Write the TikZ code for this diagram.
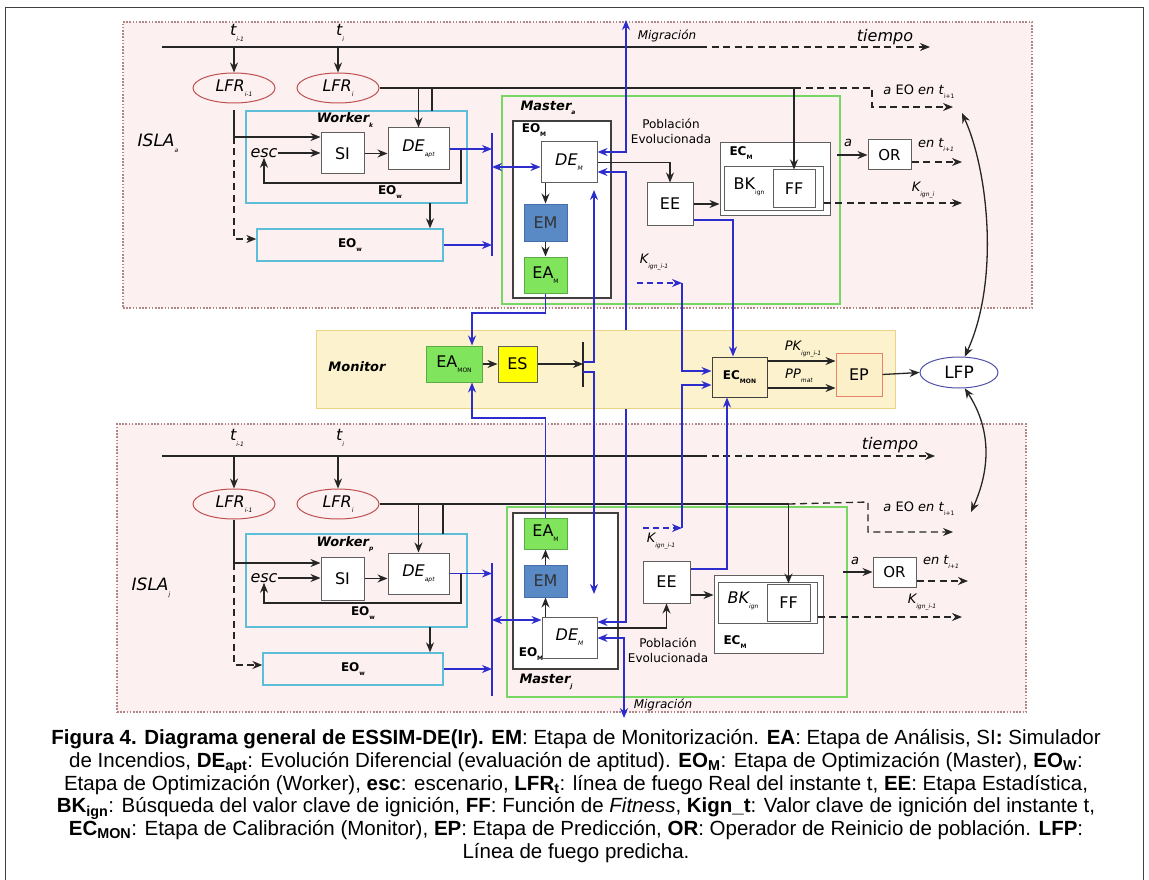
\documentclass[tikz,border=0pt]{standalone}
\usepackage{fontspec}
\setmainfont{DejaVu Sans}
\newfontfamily\capfont{Liberation Sans}
\usetikzlibrary{arrows.meta,shapes.geometric}

\definecolor{islafill}{RGB}{253,240,240}
\definecolor{isladraw}{RGB}{175,135,135}
\definecolor{monfill}{RGB}{253,242,206}
\definecolor{mondraw}{RGB}{232,212,130}
\definecolor{wkdraw}{RGB}{95,190,215}
\definecolor{msdraw}{RGB}{120,215,100}
\definecolor{emfill}{RGB}{90,138,198}
\definecolor{emdraw}{RGB}{70,110,170}
\definecolor{eafill}{RGB}{128,228,92}
\definecolor{eadraw}{RGB}{90,170,70}
\definecolor{esfill}{RGB}{255,255,0}
\definecolor{ecfill}{RGB}{251,240,200}
\definecolor{epdraw}{RGB}{232,130,105}
\definecolor{lfrdraw}{RGB}{190,80,80}
\definecolor{lfpdraw}{RGB}{80,80,170}
\definecolor{bline}{RGB}{45,45,205}
\definecolor{boxdraw}{RGB}{95,95,95}

\newcommand\fsz[1]{\fontsize{#1}{#1}\selectfont}
\newcommand\lo[1]{\raisebox{-0.6ex}{\fontsize{6}{6}\selectfont #1}}

\tikzset{
  sz/.style 2 args={minimum width=#1pt, minimum height=#2pt},
  island/.style={draw=isladraw, fill=islafill, line width=1.3pt, dash pattern=on 1.6pt off 1.6pt, inner sep=0pt},
  blk/.style={draw=boxdraw, fill=white, line width=1pt, inner sep=0pt, font=\fsz{16}},
  wk/.style={draw=wkdraw, line width=1.3pt, inner sep=0pt},
  ms/.style={draw=msdraw, line width=1.3pt, inner sep=0pt},
  eom/.style={draw=black!75, fill=white, line width=1.1pt, inner sep=0pt},
  emb/.style={blk, draw=emdraw, fill=emfill, text=black!80},
  eab/.style={blk, draw=eadraw, fill=eafill},
  esb/.style={blk, fill=esfill},
  ecb/.style={blk, fill=ecfill, draw=black!75},
  epb/.style={blk, fill=ecfill, draw=epdraw},
  monb/.style={draw=mondraw, fill=monfill, line width=1pt, inner sep=0pt},
  ell/.style={ellipse, draw=lfrdraw, fill=islafill, line width=1pt, inner sep=0pt, font=\fsz{16}\itshape},
  txt/.style={inner sep=0pt, font=\fsz{16}},
  txti/.style={inner sep=0pt, font=\fsz{16}\itshape},
  txts/.style={inner sep=0pt, font=\fsz{13}\itshape},
  txtb/.style={inner sep=0pt, font=\fsz{12}\bfseries},
  txtbi/.style={inner sep=0pt, font=\fsz{13}\bfseries\itshape},
  ln/.style={draw=black!85, line width=1.3pt},
  ar/.style={ln, -{Stealth[length=10pt,width=8pt]}},
  dar/.style={ar, dash pattern=on 7pt off 4.5pt},
  bl/.style={draw=bline, line width=1.4pt},
  blar/.style={bl, -{Stealth[length=10pt,width=8pt]}},
  blar2/.style={bl, {Stealth[length=10pt,width=8pt]}-{Stealth[length=10pt,width=8pt]}},
  dblar/.style={blar, dash pattern=on 6pt off 4pt},
  ar2/.style={ln, {Stealth[length=10pt,width=8pt]}-{Stealth[length=10pt,width=8pt]}},
}

\begin{document}
\begin{tikzpicture}[x=1pt,y=-1pt]
\useasboundingbox (0,0) rectangle (1149,880);
\fill[white] (0,0) rectangle (1149,880);
\draw[black!75, line width=0.9pt] (5,7) rectangle (1143,895);

% ================= islands =================
\node[island, sz={909}{286}] (islaA) at (577.5,165) {};
\node[island, sz={909}{288}] (islaJ) at (571.5,568) {};

% ================= island a =================
\node[inner sep=0pt, font=\fsz{17}\itshape] (islaAlab) at (158,143) {ISLA\lo{a}};
\coordinate (tA0) at (162,47); \coordinate (tA1) at (700,47); \coordinate (tA2) at (930,47);
\draw[ln] (tA0) -- (tA1);
\draw[dar] (tA1) -- (tA2);
\node[txti] (tiempoA) at (885,37) {tiempo};

\node[ell, sz={82}{30}] (lfrA1) at (234,88) {LFR\lo{i-1}};
\node[ell, sz={82}{30}] (lfrA2) at (338,88) {LFR\lo{i}};
\node[txti] (tA1lab) at (237,33) {t\lo{i-1}};
\node[txti] (tA2lab) at (340,33) {t\lo{i}};
\draw[ar] (lfrA1.north |- tA0) -- (lfrA1.north);
\draw[ar] (lfrA2.north |- tA0) -- (lfrA2.north);

\node[wk, sz={221}{92}] (workA) at (356.5,157) {};
\node[txtbi] (workAlab) at (345,120) {Worker\lo{k}};
\node[blk, sz={43}{41}] (siA) at (342.5,153.5) {SI};
\node[blk, sz={61}{42}, font=\fsz{16}\itshape] (deA) at (418.5,149) {DE\lo{apt}};
\node[txti] (escA) at (264,153) {esc};
\node[txtb] (eowAlab) at (390,192) {EO\lo{w}};
\node[wk, sz={186}{32}, font=\fsz{12}\bfseries] (eowA) at (350,245) {EO\lo{w}};

\node[ms, sz={338}{208}] (masterA) at (671,200) {};
\node[txtbi] (masterAlab) at (548,108) {Master\lo{a}};
\node[eom, sz={98}{177}] (eomA) at (562,209.5) {};
\node[txtb] (eomAlab) at (534,130) {EO\lo{M}};
\node[blk, sz={56}{41}, font=\fsz{16}\itshape] (demA) at (569,162.5) {DE\lo{M}};
\node[emb, sz={43}{37}] (emA) at (545.5,222.5) {EM};
\node[eab, sz={43}{36}] (eamA) at (545.5,275) {EA\lo{M}};
\node[blk, sz={46}{42}] (eeA) at (670,204) {EE};
\node[inner sep=0pt, align=center, font=\fontsize{12}{15}\selectfont] (pobA) at (671,131) {Población\\Evolucionada};

\node[blk, sz={110}{72}] (ecmA) at (775,179) {};
\node[txtb] (ecmAlab) at (741,153) {EC\lo{M}};
\node[blk, sz={99}{43}] (bkA) at (773.5,188.5) {};
\node[txt] (bkAlab) at (749,187) {BK\lo{ign}};
\node[blk, sz={42}{37}] (ffA) at (794,188.5) {FF};
\node[blk, sz={43}{30}, font=\fsz{15}] (orA) at (889.5,155) {OR};

\node[inner sep=0pt, font=\fsz{13}] (aeoAlab) at (919,92) {\textit{a} EO \textit{en t}\lo{i+1}};
\node[txts] (aAlab) at (848,143) {a};
\node[txts] (enAlab) at (936,145) {en t\lo{i+1}};
\node[txts] (kiAlab) at (923,190) {K\lo{ign\_i}};
\node[txts] (kgAlab) at (654,262) {K\lo{ign\_i-1}};
\node[inner sep=0pt, font=\fsz{12}\itshape] (migAlab) at (667,36) {Migración};

% connectors of island a
\coordinate (jA) at (ffA.north |- lfrA2.east);
\coordinate (aeoA1) at (872,88); \coordinate (aeoA2) at (872,107); \coordinate (aeoA) at (953,107);
\draw[ln] (lfrA2.east) -- (jA);
\draw[ar] (jA) -- (ffA.north);
\draw[dar] (jA) -- (aeoA1) -- (aeoA2) -- (aeoA);
\draw[ar] (deA.north |- lfrA2.east) -- (deA.north);
\coordinate (lfA) at (432,111);
\draw[ln] (lfA |- lfrA2.east) -- (lfA);
\coordinate (kA) at (234,137); \coordinate (kA2) at (234,239);
\draw[ln] (lfrA1.south |- workA.north) -- (kA);
\draw[ar] (kA) -- (kA -| siA.west);
\draw[dar] (kA) -- (kA2) -- (kA2 -| eowA.west);
\draw[ar] (escA.east) -- (escA.east -| siA.west);
\draw[ar] (siA.east) -- (siA.east -| deA.west);
\coordinate (fbA) at (461,183);
\draw[ar] (fbA |- deA.east) -- (fbA) -- (fbA -| escA.south) -- (escA.south);
\coordinate (wA) at (430,203);
\draw[ar] (wA) -- (wA |- eowA.north);
\coordinate (barAt) at (492,133); \coordinate (barAb) at (492,256);
\draw[bl] (barAt) -- (barAb);
\draw[blar] (deA.east) -- (deA.east -| barAt);
\draw[blar] (eowA.east) -- (eowA.east -| barAt);
\coordinate (dA) at (492,167);
\draw[blar2] (dA) -- (dA -| demA.west);
\draw[ar] (emA.north |- demA.south) -- (emA.north);
\draw[ar] (emA.south) -- (eamA.north);
\draw[ar] (demA.east) -- (demA.east -| eeA.north) -- (eeA.north);
\draw[ar] (eeA.east) -- (eeA.east -| ecmA.west);
\coordinate (aA) at (837,155);
\draw[ar] (aA) -- (orA.west);
\coordinate (orAo) at (962,162);
\draw[dar] (orAo -| orA.east) -- (orAo);
\coordinate (kiA) at (962,203);
\draw[dar] (kiA -| bkA.east) -- (kiA);
\coordinate (mA) at (626,152); \coordinate (migA) at (626,20);
\draw[blar2] (mA -| demA.east) -- (mA) -- (migA);

% ================= island j =================
\node[inner sep=0pt, font=\fsz{17}\itshape] (islaJlab) at (151,588) {ISLA\lo{j}};
\coordinate (tJ0) at (162,456); \coordinate (tJ1) at (700,456); \coordinate (tJ2) at (935,456);
\draw[ln] (tJ0) -- (tJ1);
\draw[dar] (tJ1) -- (tJ2);
\node[txti] (tiempoJ) at (890,445) {tiempo};

\node[ell, sz={82}{30}] (lfrJ1) at (234,504) {LFR\lo{i-1}};
\node[ell, sz={82}{30}] (lfrJ2) at (338,504) {LFR\lo{i}};
\node[txti] (tJ1lab) at (237,438) {t\lo{i-1}};
\node[txti] (tJ2lab) at (340,438) {t\lo{i}};
\draw[ar] (lfrJ1.north |- tJ0) -- (lfrJ1.north);
\draw[ar] (lfrJ2.north |- tJ0) -- (lfrJ2.north);

\node[wk, sz={221}{93}] (workJ) at (356.5,580.5) {};
\node[txtbi] (workJlab) at (345,544) {Worker\lo{p}};
\node[blk, sz={43}{43}] (siJ) at (342.5,578.5) {SI};
\node[blk, sz={61}{41}, font=\fsz{16}\itshape] (deJ) at (418.5,573.5) {DE\lo{apt}};
\node[txti] (escJ) at (264,578) {esc};
\node[txtb] (eowJlab) at (363,613) {EO\lo{w}};
\node[wk, sz={180}{32}, font=\fsz{12}\bfseries] (eowJ) at (353,669) {EO\lo{w}};

\node[ms, sz={340}{190}] (masterJ) at (677,602) {};
\node[txtbi] (masterJlab) at (546,682) {Master\lo{j}};
\node[eom, sz={105}{156}] (eomJ) at (565.5,591) {};
\node[txtb] (eomJlab) at (531,654) {EO\lo{M}};
\node[blk, sz={55}{41}, font=\fsz{16}\itshape] (demJ) at (569.5,637.5) {DE\lo{M}};
\node[emb, sz={43}{32}] (emJ) at (545.5,581) {EM};
\node[eab, sz={43}{31}] (eamJ) at (545.5,533.5) {EA\lo{M}};
\node[blk, sz={47}{42}] (eeJ) at (666.5,582) {EE};
\node[inner sep=0pt, align=center, font=\fontsize{12}{15}\selectfont] (pobJ) at (668,650) {Población\\Evolucionada};

\node[blk, sz={109}{78}] (ecmJ) at (768.5,614) {};
\node[txtb] (ecmJlab) at (735,642) {EC\lo{M}};
\node[blk, sz={99}{41}] (bkJ) at (767.5,602.5) {};
\node[txti] (bkJlab) at (743,601) {BK\lo{ign}};
\node[blk, sz={43}{37}] (ffJ) at (788.5,602.5) {FF};
\node[blk, sz={43}{30}, font=\fsz{15}] (orJ) at (894.5,572) {OR};

\node[inner sep=0pt, font=\fsz{13}] (aeoJlab) at (919,509) {\textit{a} EO \textit{en t}\lo{i+1}};
\node[txts] (aJlab) at (855,561) {a};
\node[txts] (enJlab) at (941,562) {en t\lo{i+1}};
\node[txts] (kiJlab) at (922,602) {K\lo{ign\_i-1}};
\node[txts] (kgJlab) at (661,541) {K\lo{ign\_i-1}};
\node[inner sep=0pt, font=\fsz{12}\itshape] (migJlab) at (663,705) {Migración};

% connectors of island j
\coordinate (jJ) at (ffJ.north |- lfrJ2.east);
\coordinate (aeoJ1) at (868,502); \coordinate (aeoJ2) at (868,532); \coordinate (aeoJ) at (953,532);
\draw[ln] (lfrJ2.east) -- (jJ);
\draw[ar] (jJ) -- (ffJ.north);
\draw[dar] (jJ) -- (aeoJ1) -- (aeoJ2) -- (aeoJ);
\draw[ar] (deJ.north |- lfrJ2.east) -- (deJ.north);
\coordinate (lfJ) at (443,534);
\draw[ln] (lfJ |- lfrJ2.east) -- (lfJ);
\coordinate (kJ) at (234,563); \coordinate (kJ2) at (234,665);
\draw[ln] (lfrJ1.south) -- (kJ);
\draw[ar] (kJ) -- (kJ -| siJ.west);
\draw[dar] (kJ) -- (kJ2) -- (kJ2 -| eowJ.west);
\draw[ar] (escJ.east) -- (escJ.east -| siJ.west);
\draw[ar] (siJ.east) -- (siJ.east -| deJ.west);
\coordinate (fbJ) at (461,603);
\draw[ar] (fbJ |- deJ.east) -- (fbJ) -- (fbJ -| escJ.south) -- (escJ.south);
\coordinate (wJ) at (430,627);
\draw[ar] (wJ) -- (wJ |- eowJ.north);
\coordinate (barJt) at (492,563); \coordinate (barJb) at (492,696);
\draw[bl] (barJt) -- (barJb);
\draw[blar] (deJ.east) -- (deJ.east -| barJt);
\draw[blar] (eowJ.east) -- (eowJ.east -| barJt);
\coordinate (dJ) at (492,620);
\draw[blar2] (dJ) -- (dJ -| demJ.west);
\draw[ar] (emJ.south |- demJ.north) -- (emJ.south);
\draw[ar] (emJ.north) -- (eamJ.south);
\coordinate (peJ) at (666.5,628);
\draw[ar] (peJ -| demJ.east) -- (peJ) -- (eeJ.south);
\coordinate (eecJ) at (700,595);
\draw[ar] (eecJ -| eeJ.east) -- (eecJ -| ecmJ.west);
\coordinate (aJ) at (843,572);
\draw[ar] (aJ) -- (orJ.west);
\coordinate (orJo) at (968,581);
\draw[dar] (orJo -| orJ.east) -- (orJo);
\coordinate (kiJ) at (962,617);
\draw[dar] (kiJ -| bkJ.east) -- (kiJ);
\coordinate (mJ) at (624,638); \coordinate (migJ) at (624,718);
\draw[blar2] (mJ -| demJ.east) -- (mJ) -- (migJ);

% migration between the two masters (runs behind the monitor)
\coordinate (dA2) at (626,172); \coordinate (dJ2) at (626,622);
\draw[blar2] (dA2 -| demA.east) -- (dA2) -- (dJ2) -- (dJ2 -| demJ.east);

% ================= monitor =================
\node[monb, sz={579}{78}] (mon) at (605.5,369) {};
\node[txtbi] (monlab) at (357,367) {Monitor};
\node[eab, sz={56}{36}] (eamon) at (454,364) {EA\lo{MON}};
\node[esb, sz={39}{36}] (es) at (517.5,364) {ES};
\node[ecb, sz={55}{40}] (ecmon) at (739.5,377) {\fsz{12}\bfseries EC\lo{MON}};
\node[epb, sz={46}{43}] (ep) at (859,374.5) {EP};
\node[ellipse, draw=lfpdraw, fill=white, line width=1pt, inner sep=0pt, sz={78}{31}, font=\fsz{17}] (lfp) at (959,372.5) {LFP};
\node[txts] (pklab) at (803,349) {PK\lo{ign\_i-1}};
\node[txts] (pplab) at (799,376) {PP\lo{mat}};

\coordinate (b2t) at (583,342); \coordinate (b2b) at (583,387);
\draw[ln] (b2t) -- (b2b);
\draw[ar] (eamon.east) -- (es.west);
\draw[ar] (es.east) -- (es.east -| b2t);
\coordinate (u1) at (594,362); \coordinate (u2) at (594,190);
\draw[blar] (u1 -| b2t) -- (u1) -- (u2);
\coordinate (d1) at (594,372); \coordinate (d2) at (594,594);
\draw[blar] (d1 -| b2t) -- (d1) -- (d2);

\coordinate (pkY) at (800,361); \coordinate (ppY) at (800,388);
\draw[ar] (ecmon.east |- pkY) -- (ep.west |- pkY);
\draw[ar] (ecmon.east |- ppY) -- (ep.west |- ppY);
\draw[ar] (ep.east) -- (lfp.west);

% ignition key of each island to calibration
\coordinate (kgA0) at (637,283); \coordinate (kgA1) at (682,283); \coordinate (kgA2) at (682,371);
\draw[dblar] (kgA0) -- (kgA1);
\draw[blar] (kgA1) -- (kgA2) -- (kgA2 -| ecmon.west);
\coordinate (kgJ0) at (643,528); \coordinate (kgJ1) at (682,528); \coordinate (kgJ2) at (682,385);
\draw[dblar] (kgJ0) -- (kgJ1);
\draw[blar] (kgJ1) -- (kgJ2) -- (kgJ2 -| ecmon.west);

% statistics of each island to calibration
\coordinate (eA1) at (733,220);
\draw[blar] (eeA.east |- eA1) -- (eA1) -- (eA1 |- ecmon.north);
\coordinate (eJ1) at (727,569);
\draw[blar] (eeJ.east |- eJ1) -- (eJ1) -- (eJ1 |- ecmon.south);

% analysis of each island to the monitor
\coordinate (ea1) at (545.5,313); \coordinate (ea2) at (472,313);
\draw[blar] (eamA.south) -- (ea1) -- (ea2) -- (ea2 |- eamon.north);
\coordinate (ea3) at (545.5,418); \coordinate (ea4) at (472,418);
\draw[blar] (eamJ.north) -- (ea3) -- (ea4) -- (ea4 |- eamon.south);

% predicted fire line back to both islands
\coordinate (lfpA) at (962,113);
\coordinate (lfpJ) at (971,512);
\draw[ar2] (lfpA) .. controls (988,170) and (1000,280) .. (lfp.70);
\draw[ar2] (lfp.-70) .. controls (992,430) and (990,470) .. (lfpJ);

% ================= caption =================
\node[inner sep=0pt, align=center, font=\capfont\fontsize{20.5}{22.8}\selectfont] (cap) at (576,796) {%
\textbf{Figura 4. Diagrama general de ESSIM-DE(Ir). EM}: Etapa de Monitorización. \textbf{EA}: Etapa de Análisis, SI\textbf{:} Simulador\\
de Incendios, \textbf{DE\textsubscript{apt}}: Evolución Diferencial (evaluación de aptitud). \textbf{EO\textsubscript{M}}: Etapa de Optimización (Master), \textbf{EO\textsubscript{W}}:\\
Etapa de Optimización (Worker), \textbf{esc}: escenario, \textbf{LFR\textsubscript{t}}: línea de fuego Real del instante t, \textbf{EE}: Etapa Estadística,\\
\textbf{BK\textsubscript{ign}}: Búsqueda del valor clave de ignición, \textbf{FF}: Función de \textit{Fitness}, \textbf{Kign\_t}: Valor clave de ignición del instante t,\\
\textbf{EC\textsubscript{MON}}: Etapa de Calibración (Monitor), \textbf{EP}: Etapa de Predicción, \textbf{OR}: Operador de Reinicio de población. \textbf{LFP}:\\
Línea de fuego predicha.};
\end{tikzpicture}
\end{document}
